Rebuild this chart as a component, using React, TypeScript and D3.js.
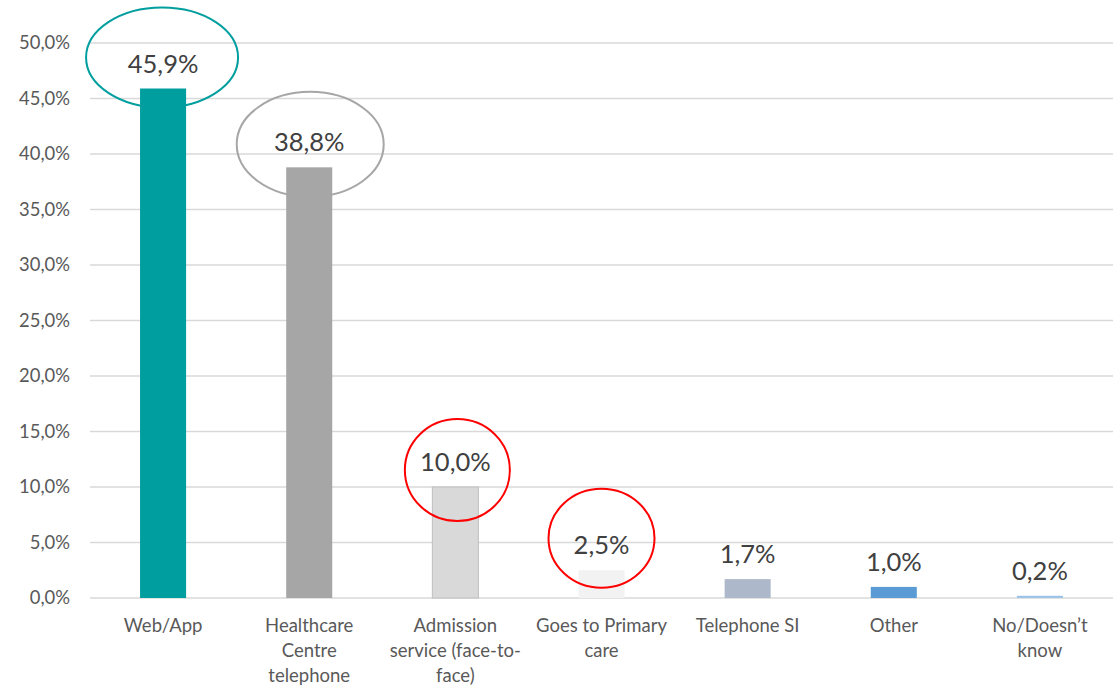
import React from "react";
import * as d3 from "d3";

const categories = ["Web/App", "Healthcare Centre telephone", "Admission service (face-to-face)", "Goes to Primary care", "Telephone SI", "Other", "No/Doesn’t know"];
const categoryLines = [["Web/App"], ["Healthcare", "Centre", "telephone"], ["Admission", "service (face-to-", "face)"], ["Goes to Primary", "care"], ["Telephone SI"], ["Other"], ["No/Doesn’t", "know"]];
const values = [45.9, 38.8, 10.0, 2.5, 1.7, 1.0, 0.2];
const valueLabels = ["45,9%", "38,8%", "10,0%", "2,5%", "1,7%", "1,0%", "0,2%"];
const barColors = ["#009E9E", "#A6A6A6", "#D9D9D9", "#F2F2F2", "#ADB9CA", "#5B9BD5", "#9DC3E6"];
const yTicks = [0, 5, 10, 15, 20, 25, 30, 35, 40, 45, 50];

// highlighted categories (annotation ellipses)
const highlights = [
  { index: 0, color: "#009E9E" },
  { index: 1, color: "#A6A6A6" },
  { index: 2, color: "#FF0000" },
  { index: 3, color: "#FF0000" },
];
const highlightShape = [
  { dx: -1, dy: -31, rx: 76, ry: 50 },
  { dx: 1, dy: -23, rx: 73.5, ry: 52.5 },
  { dx: 2, dy: -17, rx: 52.5, ry: 51 },
  { dx: 0, dy: -32, rx: 53, ry: 49.5 },
];

const W = 1120, H = 685;
const left = 90, right = 1113, top = 43, bottom = 598;
const FONT = "Lato, 'Open Sans', sans-serif";

export default function App() {
  const x = d3.scaleBand<string>().domain(categories).range([left, right]).paddingInner(0.685).paddingOuter(0.3425);
  const y = d3.scaleLinear().domain([0, 50]).range([bottom, top]);
  const bw = x.bandwidth();
  const cx = (c: string) => (x(c) as number) + bw / 2;

  return (
    <svg width={W} height={H} style={{ position: "absolute", left: 0, top: 0, background: "#fff" }}>
      {yTicks.map((t) => (
        <g key={t}>
          <line x1={left} x2={right} y1={y(t)} y2={y(t)} stroke="#D9D9D9" strokeWidth={1.3} />
          <text x={70} y={y(t)} dy="0.35em" textAnchor="end" fontFamily={FONT} fontSize={18.4} fill="#595959">
            {`${t},0%`}
          </text>
        </g>
      ))}
      {categories.map((c, i) => (
        <rect key={c} x={x(c)} y={y(values[i])} width={bw} height={y(0) - y(values[i])} fill={barColors[i]}
          stroke={i === 2 ? "#BFBFBF" : "none"} strokeWidth={1} />
      ))}
      {categories.map((c, i) => (
        <text key={"v" + c} x={cx(c)} y={y(values[i]) - 16} textAnchor="middle" fontFamily={FONT} fontSize={25.5} fill="#404040">
          {valueLabels[i]}
        </text>
      ))}
      {categories.map((c, i) => (
        <text key={"c" + c} textAnchor="middle" fontFamily={FONT} fontSize={18.5} fill="#595959">
          {categoryLines[i].map((l, j) => (
            <tspan key={j} x={cx(c)} y={632 + j * 25}>{l}</tspan>
          ))}
        </text>
      ))}
      {highlights.map((h, k) => {
        const c = categories[h.index];
        const s = highlightShape[k];
        return (
          <ellipse key={"e" + k} cx={cx(c) + s.dx} cy={y(values[h.index]) + s.dy} rx={s.rx} ry={s.ry}
            fill="none" stroke={h.color} strokeWidth={2} />
        );
      })}
    </svg>
  );
}
